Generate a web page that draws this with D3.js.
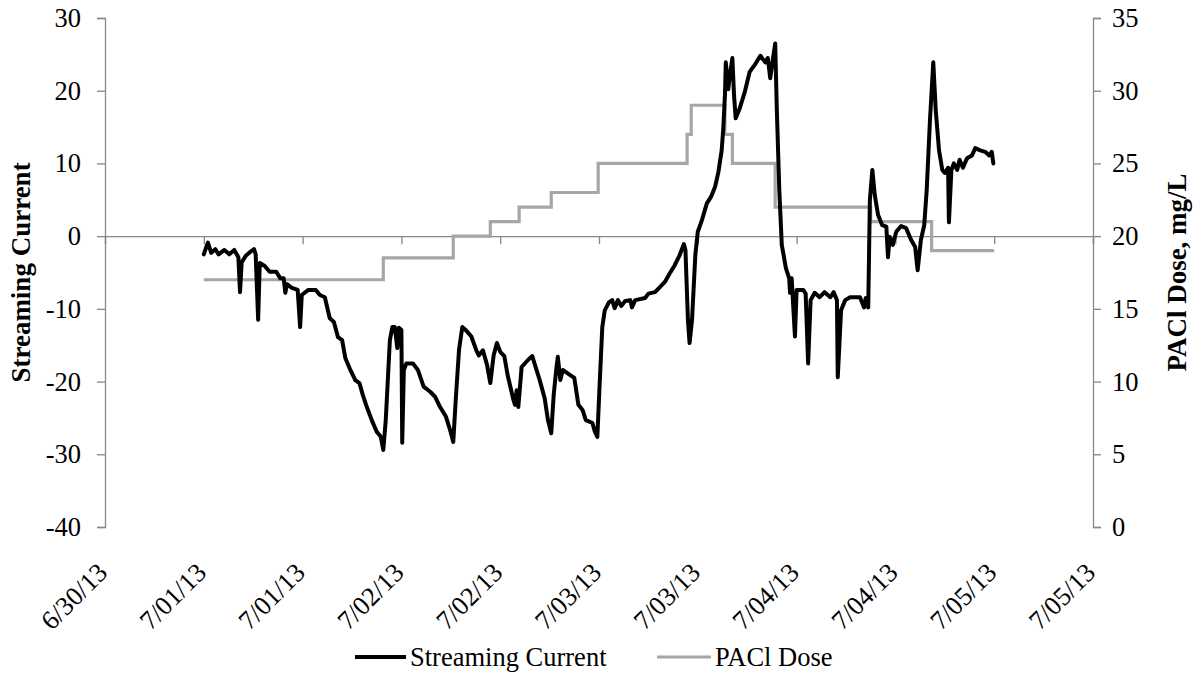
<!DOCTYPE html>
<html><head><meta charset="utf-8">
<script src="https://cdn.jsdelivr.net/npm/d3@7"></script>
<style>
body{margin:0;background:#fff}
svg text{font-family:"Liberation Serif","Times New Roman","DejaVu Serif",Tinos,serif !important;fill:#000}
</style>
</head><body>
<svg id="chart" width="1199" height="683"></svg>
<script>
// hours since 6/30/13 12:00
const xTickHours = [0,12,24,36,48,60,72,84,96,108,120];
const xTickLabels = ["6/30/13","7/01/13","7/01/13","7/02/13","7/02/13","7/03/13","7/03/13","7/04/13","7/04/13","7/05/13","7/05/13"];
const leftTicks = [30,20,10,0,-10,-20,-30,-40];
const rightTicks = [0,5,10,15,20,25,30,35];

const scHours = [12.0,12.3,12.5,12.9,13.4,13.8,14.5,15.1,15.7,16.2,16.4,16.6,17.1,17.6,18.1,18.3,18.6,18.8,19.4,20.0,
20.8,21.3,21.7,21.9,22.1,22.7,23.4,23.7,23.9,24.7,25.6,26.1,26.7,27.3,27.8,28.3,28.8,29.2,29.8,30.4,
30.9,31.3,31.8,32.4,33.0,33.5,33.8,34.1,34.6,34.9,35.2,35.5,35.7,36.0,36.1,36.3,36.6,37.4,38.0,38.7,
39.5,40.1,40.7,41.4,41.9,42.3,42.6,43.0,43.4,43.8,44.5,45.1,45.4,45.9,46.4,46.8,47.2,47.6,48.0,48.5,
48.9,49.6,49.8,50.0,50.2,50.6,51.4,51.9,52.3,52.8,53.4,53.8,54.2,54.5,54.8,55.0,55.3,55.6,56.5,57.0,
57.5,58.0,58.4,59.2,59.5,59.8,60.1,60.4,60.7,61.2,61.6,61.9,62.3,62.7,63.2,63.8,64.0,64.4,65.6,66.0,
66.8,67.4,68.0,68.6,69.2,69.8,70.3,70.5,70.8,71.0,71.3,71.7,72.0,72.5,73.1,73.6,74.1,74.5,74.9,75.1,
75.3,75.4,75.7,75.9,76.2,76.4,76.6,77.1,77.7,78.3,79.0,79.6,80.2,80.5,80.8,81.1,81.4,81.6,81.9,82.2,
82.7,83.1,83.2,83.4,83.8,84.0,84.8,85.1,85.4,85.7,86.2,86.8,87.4,88.1,88.5,88.9,89.0,89.4,89.9,90.5,
91.7,92.2,92.4,92.7,92.9,93.2,93.5,93.9,94.4,94.9,95.1,95.3,95.7,96.1,96.7,97.3,97.9,98.4,98.7,99.1,
99.5,99.8,100.2,100.6,100.9,101.3,101.7,102.0,102.4,102.5,102.8,103.1,103.5,103.8,104.2,104.7,105.3,105.7,106.3,106.9,
107.4,107.7,107.9];
const scValues = [-2.5,-1.5,-0.9,-2.3,-1.8,-2.5,-1.9,-2.5,-1.9,-2.9,-7.7,-3.6,-2.7,-2.2,-1.8,-2.5,-11.5,-3.7,-4.1,-4.9,
-4.9,-5.8,-5.8,-7.8,-6.6,-7.1,-7.4,-12.5,-8.1,-7.4,-7.4,-8.1,-8.4,-11.3,-11.8,-13.9,-14.3,-16.8,-18.4,-19.8,
-20.2,-21.8,-23.5,-25.3,-26.9,-27.6,-29.4,-25.3,-14.3,-12.5,-12.5,-15.4,-12.6,-12.9,-28.4,-18.4,-17.5,-17.5,-18.4,-20.7,
-21.4,-22.1,-23.5,-24.8,-26.6,-28.3,-22.5,-15.6,-12.5,-12.9,-13.8,-15.7,-16.4,-15.7,-17.7,-20.2,-16.4,-14.7,-15.9,-16.5,
-19.1,-22.5,-23.2,-21.2,-23.5,-18.0,-17.0,-16.5,-18.0,-19.8,-22.3,-25.3,-27.1,-21.8,-18.4,-16.6,-19.8,-18.4,-19.1,-19.5,
-23.2,-23.9,-25.3,-25.7,-26.9,-27.6,-19.8,-12.5,-10.2,-9.1,-8.8,-9.9,-8.8,-9.6,-8.9,-8.8,-9.8,-8.8,-8.5,-7.9,
-7.7,-7.0,-6.3,-5.1,-4.0,-2.6,-1.1,-1.9,-11.5,-14.7,-11.5,-2.6,0.6,2.2,4.5,5.4,6.8,8.8,11.8,14.9,
19.5,23.9,20.2,22.2,24.5,19.4,16.2,17.6,19.8,22.6,23.7,24.8,23.9,24.5,21.7,24.2,26.5,17.3,6.3,-1.2,
-4.4,-5.8,-7.8,-5.8,-13.8,-7.4,-7.4,-7.9,-17.5,-8.8,-7.8,-8.4,-7.7,-8.4,-7.7,-8.8,-19.4,-10.2,-8.8,-8.4,
-8.4,-9.8,-8.5,-9.8,5.0,9.1,5.6,2.9,1.5,1.3,-2.9,-0.1,-1.2,0.6,1.4,1.1,-0.5,-1.5,-4.7,-0.5,
1.5,6.3,16.0,23.9,17.3,11.8,9.1,8.7,9.4,1.9,9.1,10.0,9.1,10.5,9.4,10.7,11.1,12.1,11.8,11.6,
11.1,11.6,10.0];

const pacHours = [12.0,33.8,42.3,46.8,50.3,54.2,59.9,70.7,71.2,75.3,76.2,81.4,93.0,100.4,108.0];
const pacDose  = [17,18.5,20,21,22,23,25,27,29,27,25,22,21,19,19];

const L = 105, R = 1093, T = 18, B = 527;
const svg = d3.select("#chart");
const serif = "Liberation Serif, Times New Roman, DejaVu Serif, serif";

const x = d3.scaleLinear().domain([0,120]).range([L,R]);
const yL = d3.scaleLinear().domain([-40,30]).range([B,T]);
const yR = d3.scaleLinear().domain([0,35]).range([B,T]);

const axisColor = "#878787";
const fs = 26.5;
const fmt = d => String(d); // hyphen minus like the original

function styleAxis(g){
  g.attr("font-family", serif);
  g.select(".domain").attr("stroke",axisColor).attr("stroke-width",1.3);
  g.selectAll(".tick line").attr("stroke",axisColor).attr("stroke-width",1.3);
  g.selectAll(".tick text").attr("font-size",fs).attr("fill","#000");
}

// left axis
svg.append("g").attr("transform",`translate(${L},0)`)
  .call(d3.axisLeft(yL).tickValues(leftTicks).tickFormat(fmt).tickSize(8).tickPadding(16))
  .call(styleAxis);

// right axis
svg.append("g").attr("transform",`translate(${R},0)`)
  .call(d3.axisRight(yR).tickValues(rightTicks).tickFormat(fmt).tickSize(8).tickPadding(11))
  .call(styleAxis);

// horizontal axis at zero with ticks
svg.append("g").attr("transform",`translate(0,${yL(0)})`)
  .call(d3.axisBottom(x).tickValues(xTickHours).tickSize(8).tickFormat(""))
  .call(styleAxis);

// x tick labels at the bottom, rotated
svg.append("g").attr("font-family", serif).selectAll("text").data(xTickHours).join("text")
  .attr("transform",(d)=>`translate(${x(d)+4},${574}) rotate(-45)`)
  .attr("text-anchor","end")
  .attr("font-size",fs)
  .text((d,i)=>xTickLabels[i]);

// PACl dose line
const pacLine = d3.line().x((d,i)=>x(pacHours[i])).y((d,i)=>yR(pacDose[i])).curve(d3.curveStepAfter);
svg.append("path").datum(pacDose).attr("d",pacLine)
  .attr("fill","none").attr("stroke","#a6a6a6").attr("stroke-width",3.2);

// Streaming current line
const scLine = d3.line().x((d,i)=>x(scHours[i])).y((d,i)=>yL(scValues[i])).curve(d3.curveLinear);
svg.append("path").datum(scValues).attr("d",scLine)
  .attr("fill","none").attr("stroke","#000").attr("stroke-width",4)
  .attr("stroke-linejoin","round").attr("stroke-linecap","round");

// axis titles
svg.append("text").attr("transform",`translate(30,${(T+B)/2}) rotate(-90)`)
  .attr("text-anchor","middle").attr("font-size",27).attr("font-weight","bold")
  .attr("font-family", serif).text("Streaming Current");
svg.append("text").attr("transform",`translate(1186,${(T+B)/2}) rotate(-90)`)
  .attr("text-anchor","middle").attr("font-size",27).attr("font-weight","bold")
  .attr("font-family", serif).text("PACl Dose, mg/L");

// legend
const ly = 657;
const lg = svg.append("g").attr("font-family", serif);
lg.append("line").attr("x1",355).attr("x2",406).attr("y1",ly).attr("y2",ly).attr("stroke","#000").attr("stroke-width",4);
lg.append("text").attr("x",410).attr("y",ly+9).attr("font-size",fs).text("Streaming Current");
lg.append("line").attr("x1",657).attr("x2",711).attr("y1",ly).attr("y2",ly).attr("stroke","#a6a6a6").attr("stroke-width",3.2);
lg.append("text").attr("x",715).attr("y",ly+9).attr("font-size",fs).text("PACl Dose");
</script>
</body></html>
